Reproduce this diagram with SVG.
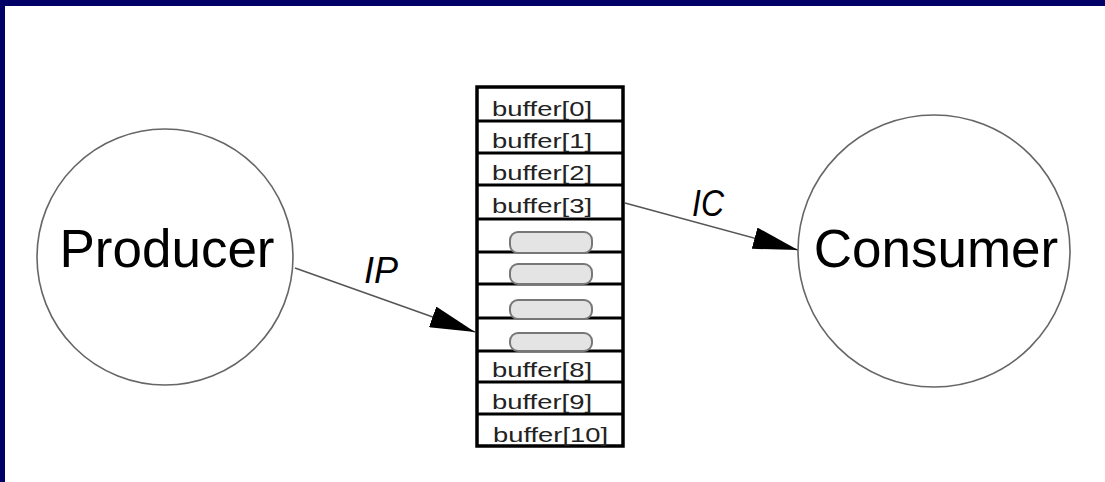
<svg xmlns="http://www.w3.org/2000/svg" width="1105" height="482" viewBox="0 0 1105 482">
<style>
.node{fill:#fff;stroke:#666;stroke-width:1.6}
.big{font-family:"Liberation Sans",Arial,sans-serif;font-size:53px;fill:#000;text-anchor:middle}
.buf{font-family:"Liberation Sans",Arial,sans-serif;font-size:21px;fill:#222}
.lbl{font-family:"Liberation Sans",Arial,sans-serif;font-size:36px;font-style:italic;fill:#000}
.edge{stroke:#555;stroke-width:1.6;fill:none}
.sep{stroke:#000;stroke-width:3}
.pill{fill:#e4e4e4;stroke:#777;stroke-width:2}
</style>
<defs>
<marker id="ah" viewBox="0 0 45 22" refX="45" refY="11" markerWidth="45" markerHeight="22" markerUnits="userSpaceOnUse" orient="auto">
<path d="M0,0 L45,11 L0,22 z" fill="#000"/>
</marker>
</defs>
<rect x="0" y="0" width="1105" height="482" fill="#fff"/>
<rect x="0" y="0" width="1105" height="6" fill="#000066"/>
<rect x="0" y="0" width="5" height="482" fill="#000066"/>
<g id="connectors">
<line class="edge" x1="295" y1="268" x2="475" y2="332" marker-end="url(#ah)"/>
<line class="edge" x1="625" y1="203" x2="798" y2="250" marker-end="url(#ah)"/>
<text class="lbl" x="364" y="283" textLength="34" lengthAdjust="spacingAndGlyphs">IP</text>
<text class="lbl" x="692" y="216" textLength="32" lengthAdjust="spacingAndGlyphs">IC</text>
</g>
<g id="producer">
<circle class="node" cx="165" cy="257" r="128"/>
<text class="big" x="167" y="267">Producer</text>
</g>
<g id="consumer">
<circle class="node" cx="934" cy="251" r="136"/>
<text class="big" x="936" y="267">Consumer</text>
</g>
<g id="buffer">
<rect x="477" y="87" width="146" height="359" fill="#fff" stroke="#000" stroke-width="3.5"/>
<line class="sep" x1="477" y1="121" x2="623" y2="121"/>
<line class="sep" x1="477" y1="153" x2="623" y2="153"/>
<line class="sep" x1="477" y1="185" x2="623" y2="185"/>
<line class="sep" x1="477" y1="219" x2="623" y2="219"/>
<line class="sep" x1="477" y1="252" x2="623" y2="252"/>
<line class="sep" x1="477" y1="284" x2="623" y2="284"/>
<line class="sep" x1="477" y1="318" x2="623" y2="318"/>
<line class="sep" x1="477" y1="351" x2="623" y2="351"/>
<line class="sep" x1="477" y1="382" x2="623" y2="382"/>
<line class="sep" x1="477" y1="414" x2="623" y2="414"/>
<text class="buf" x="492" y="116" textLength="100" lengthAdjust="spacingAndGlyphs">buffer[0]</text>
<text class="buf" x="492" y="148" textLength="100" lengthAdjust="spacingAndGlyphs">buffer[1]</text>
<text class="buf" x="492" y="180" textLength="100" lengthAdjust="spacingAndGlyphs">buffer[2]</text>
<text class="buf" x="492" y="213" textLength="100" lengthAdjust="spacingAndGlyphs">buffer[3]</text>
<rect class="pill" x="510" y="232" width="82" height="21" rx="8"/>
<rect class="pill" x="510" y="264" width="82" height="20" rx="8"/>
<rect class="pill" x="510" y="300" width="82" height="19" rx="8"/>
<rect class="pill" x="510" y="333" width="82" height="18" rx="8"/>
<text class="buf" x="492" y="377" textLength="100" lengthAdjust="spacingAndGlyphs">buffer[8]</text>
<text class="buf" x="492" y="409" textLength="100" lengthAdjust="spacingAndGlyphs">buffer[9]</text>
<text class="buf" x="493" y="442" textLength="115" lengthAdjust="spacingAndGlyphs">buffer[10]</text>
</g>
</svg>
